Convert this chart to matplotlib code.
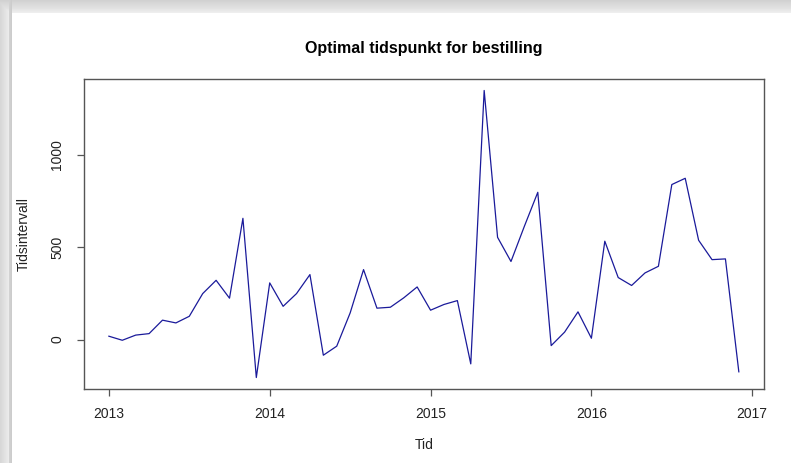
import numpy as np
import matplotlib
matplotlib.use("Agg")
import matplotlib.pyplot as plt

# monthly series, Jan 2013 .. Dec 2016
start_year = 2013
values = [
    18, -4, 24, 32, 105, 90, 126, 249, 321, 224, 657, -206,
    307, 180, 249, 352, -85, -36, 144, 379, 170, 175, 226, 285,
    159, 190, 211, -132, 1350, 554, 423, 614, 798, -33, 40, 150,
    7, 533, 336, 293, 361, 397, 840, 874, 538, 433, 437, -175,
]
year_ticks = [2013, 2014, 2015, 2016, 2017]
value_ticks = [0, 500, 1000]

plt.rcParams["font.family"] = ["Liberation Sans", "DejaVu Sans"]

t = start_year + np.arange(len(values)) / 12.0

fig = plt.figure(figsize=(7.91, 4.63), dpi=100)

# screenshot drop shadow along the left and top edges
bg = fig.add_axes([0, 0, 1, 1], zorder=-10)
h, w = 463, 791
img = np.ones((h, w))
for i in range(12):
    img[:, i] = np.minimum(img[:, i], 0.80 + 0.012 * (11 - i) if i > 8 else 0.84 + 0.01 * i)
for j in range(13):
    img[j, :] = np.minimum(img[j, :], 0.82 + 0.008 * j if j < 9 else 0.90 + 0.01 * (j - 9))
img[13:, 12:] = 1.0
bg.imshow(img, cmap="gray", vmin=0, vmax=1, aspect="auto", interpolation="nearest")
bg.axis("off")

ax = fig.add_axes([0.1058, 0.1598, 0.8601, 0.6696])
ax.plot(t, values, color="#1a1a9a", linewidth=0.9)

pad_x = 0.04 * (t[-1] - t[0])
pad_y = 0.04 * (max(values) - min(values))
ax.set_xlim(t[0] - pad_x, t[-1] + pad_x)
ax.set_ylim(min(values) - pad_y, max(values) + pad_y)

ax.set_xticks(year_ticks)
ax.set_xticklabels([str(y) for y in year_ticks])
ax.set_yticks(value_ticks)
ax.set_yticklabels([str(v) for v in value_ticks], rotation=90, va="center")

for s in ax.spines.values():
    s.set_color("#555555")
    s.set_linewidth(1.0)
ax.tick_params(axis="both", length=5, width=0.9, color="#555555",
               labelsize=10, labelcolor="#222222")
ax.tick_params(axis="x", pad=8)
ax.tick_params(axis="y", pad=9)

ax.set_title("Optimal tidspunkt for bestilling", fontsize=11.5,
             fontweight="bold", pad=19)
ax.set_xlabel("Tid", fontsize=10, color="#222222", labelpad=12)
ax.set_ylabel("Tidsintervall", fontsize=10, color="#222222", labelpad=14)

fig.savefig("out.png", dpi=100)
